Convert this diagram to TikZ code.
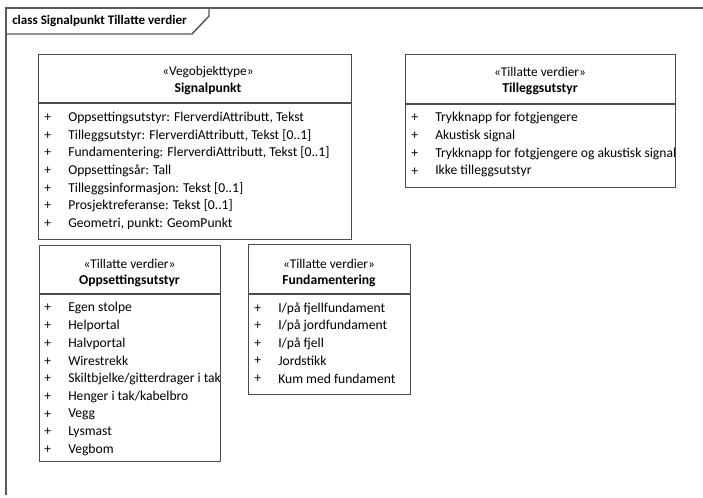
\documentclass[tikz,border=0pt]{standalone}
\usepackage{fontspec}
\setmainfont{Carlito}
\begin{document}
\begin{tikzpicture}[x=0.75pt,y=-0.75pt,
  framel/.style={draw=black!65,line width=1.1pt},
  umlbox/.style={draw=black!70,line width=1.1pt,fill=white,inner sep=0pt,anchor=north west},
  sepl/.style={draw=black!70,line width=0.9pt},
  txt/.style={font=\fontsize{10.2}{11}\selectfont,inner sep=0pt,anchor=west,text=black},
  hd/.style={font=\fontsize{10}{11}\selectfont,inner sep=0pt,anchor=center,text=black},
  hdb/.style={font=\fontsize{10.2}{11}\selectfont\bfseries,inner sep=0pt,anchor=center,text=black}]
\useasboundingbox (0,0) rectangle (703,497);
\fill[white] (0,0) rectangle (703,497);
% frame
\draw[framel] (6,495) -- (6,8) -- (703,8);
\draw[framel] (6,34) -- (192,34) -- (209,16) -- (209,8);
\node[txt,font=\fontsize{9.8}{11}\selectfont\bfseries] (title) at (12,21) {class Signalpunkt Tillatte verdier};
% Signalpunkt
\node[umlbox,minimum height=185*0.75pt,minimum width=313*0.75pt] (sp) at (38,54) {};
\draw[sepl] (38,103) -- (351,103);
\node[hd] (spst) at (208,72) {«Vegobjekttype»};
\node[hdb] (spnm) at (208,89) {Signalpunkt};
\begin{scope}
\clip (38,103) rectangle (351,239);
\foreach \t [count=\i] in {Oppsettingsutstyr: FlerverdiAttributt\comma{} Tekst,Tilleggsutstyr: FlerverdiAttributt\comma{} Tekst [0..1],Fundamentering: FlerverdiAttributt\comma{} Tekst [0..1],Oppsettingsår: Tall,Tilleggsinformasjon: Tekst [0..1],Prosjektreferanse: Tekst [0..1],Geometri\comma{} punkt: GeomPunkt}{
  \node[txt] (spp\i) at (44,100+\i*17.7) {+};
  \node[txt] (spa\i) at (68,100+\i*17.7) {\def\comma{,}\t};
}
\end{scope}
% Tilleggsutstyr
\node[umlbox,minimum width=270*0.75pt,minimum height=133*0.75pt] (tu) at (405,54) {};
\draw[sepl] (405,104) -- (675,104);
\node[hd] (tust) at (540,72) {«Tillatte verdier»};
\node[hdb] (tunm) at (540,89) {Tilleggsutstyr};
\begin{scope}
\clip (405,104) rectangle (674,187);
\foreach \t [count=\i] in {Trykknapp for fotgjengere,Akustisk signal,Trykknapp for fotgjengere og akustisk signal,Ikke tilleggsutstyr}{
  \node[txt] (tup\i) at (411,100.5+\i*17.7) {+};
  \node[txt] (tua\i) at (435,100.5+\i*17.7) {\t};
}
\end{scope}
% Oppsettingsutstyr
\node[umlbox,minimum width=181*0.75pt,minimum height=216*0.75pt] (ou) at (39,245) {};
\draw[sepl] (39,294) -- (220,294);
\node[hd] (oust) at (129.5,264) {«Tillatte verdier»};
\node[hdb] (ounm) at (129.5,281) {Oppsettingsutstyr};
\begin{scope}
\clip (39,294) rectangle (219,461);
\foreach \t [count=\i] in {Egen stolpe,Helportal,Halvportal,Wirestrekk,Skiltbjelke/gitterdrager i tak,Henger i tak/kabelbro,Vegg,Lysmast,Vegbom}{
  \node[txt] (oup\i) at (44,290.5+\i*17.7) {+};
  \node[txt] (oua\i) at (68,290.5+\i*17.7) {\t};
}
\end{scope}
% Fundamentering
\node[umlbox,minimum width=162*0.75pt,minimum height=150*0.75pt] (fu) at (248,244) {};
\draw[sepl] (248,294) -- (410,294);
\node[hd] (fust) at (329,264) {«Tillatte verdier»};
\node[hdb] (funm) at (329,281) {Fundamentering};
\foreach \t [count=\i] in {I/på fjellfundament,I/på jordfundament,I/på fjell,Jordstikk,Kum med fundament}{
  \node[txt] (fup\i) at (254,291+\i*17.5) {+};
  \node[txt] (fua\i) at (278,291+\i*17.5) {\t};
}
\end{tikzpicture}
\end{document}
